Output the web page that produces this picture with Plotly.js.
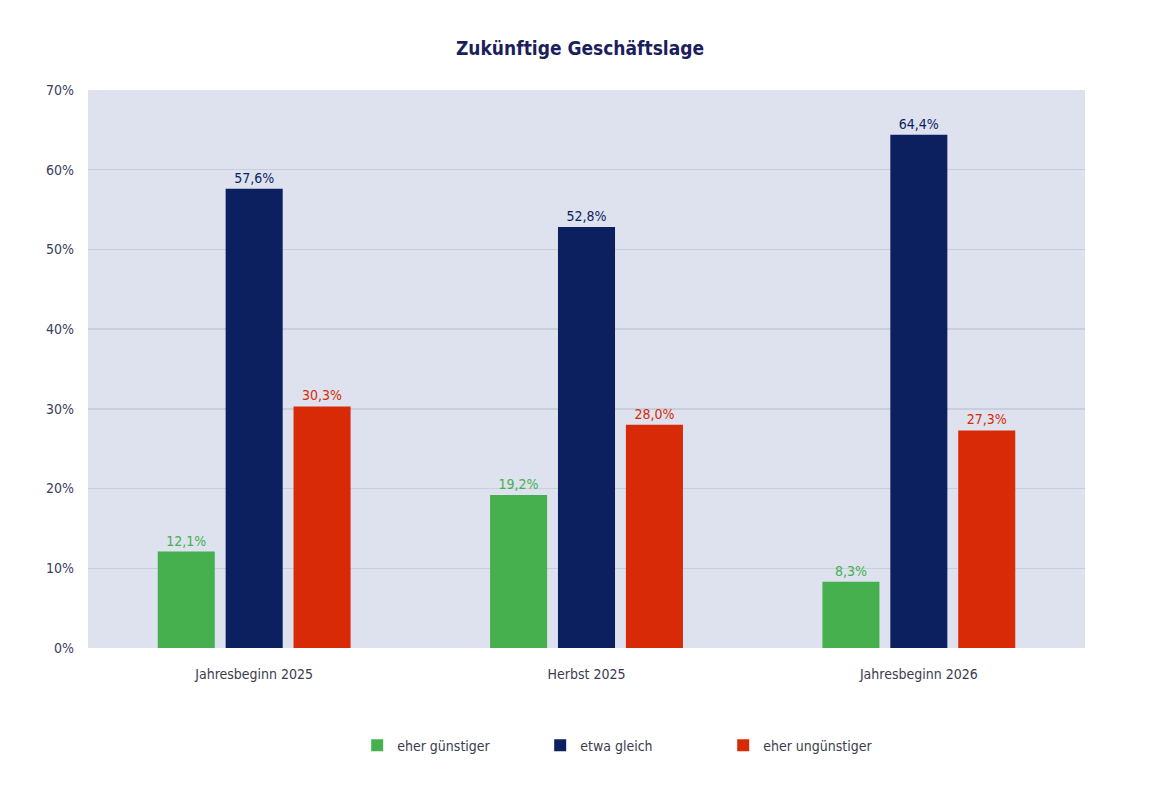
<!DOCTYPE html>
<html>
<head>
<meta charset="utf-8">
<script src="https://cdn.plot.ly/plotly-3.0.1.min.js"></script>
<style>html,body{margin:0;padding:0;background:#fff;}#chart{width:1160px;height:800px;}</style>
</head>
<body>
<div id="chart"></div>
<script>
const categories = ["Jahresbeginn 2025", "Herbst 2025", "Jahresbeginn 2026"];
const seriesNames = ["eher günstiger", "etwa gleich", "eher ungünstiger"];
const guenstiger = [12.1, 19.2, 8.3];
const gleich = [57.6, 52.8, 64.4];
const unguenstiger = [30.3, 28.0, 27.3];
const yTicks = [0, 10, 20, 30, 40, 50, 60, 70];

const colors = ["#46b04e", "#0c1f5f", "#d82a06"];
const values = [guenstiger, gleich, unguenstiger];
const fontFam = "'DejaVu Sans Condensed', 'Liberation Sans Narrow', Arial, sans-serif";

const traces = values.map((v, i) => ({
  type: "bar",
  name: seriesNames[i],
  x: categories,
  y: v,
  marker: {color: colors[i]},
  text: v.map(d => d.toFixed(1).replace(".", ",") + "%"),
  textposition: "outside",
  texttemplate: "%{text}",
  textfont: {color: colors[i], size: 14, family: fontFam},
  cliponaxis: false,
  hoverinfo: "skip"
}));

const layout = {
  width: 1160, height: 800,
  margin: {l: 88, r: 75, t: 90, b: 152},
  paper_bgcolor: "#ffffff",
  plot_bgcolor: "#dde2ee",
  title: {text: "<b>Zukünftige Geschäftslage</b>", x: 0.5, xanchor: "center", y: 0.94, yanchor: "middle",
          font: {family: "'DejaVu Sans Condensed', 'Liberation Sans Narrow', sans-serif", size: 19, color: "#1c1f5c"}},
  barmode: "group",
  bargap: 0.387,
  bargroupgap: 0.16,
  separators: ",.",
  xaxis: {
    tickfont: {family: fontFam, size: 14, color: "#3a3d4d"},
    showline: false, ticks: "", showgrid: false,
    ticklabelstandoff: 16
  },
  yaxis: {
    range: [0, 70],
    tickvals: yTicks,
    ticktext: yTicks.map(t => t + "%"),
    tickfont: {family: fontFam, size: 14, color: "#3a3d5c"},
    gridcolor: "#c8cedc", gridwidth: 1.5,
    zeroline: false, showline: false, ticks: "", ticklen: 0,
    ticklabelstandoff: 13,
    fixedrange: true
  },
  showlegend: true,
  legend: {
    orientation: "h", x: 0.27, xanchor: "left", y: -0.175, yanchor: "middle",
    font: {family: fontFam, size: 14, color: "#3a3d4d"},
    entrywidth: 138, entrywidthmode: "pixels",
    itemwidth: 30, traceorder: "normal"
  }
};

Plotly.newPlot("chart", traces, layout, {displayModeBar: false, staticPlot: true});
</script>
</body>
</html>
